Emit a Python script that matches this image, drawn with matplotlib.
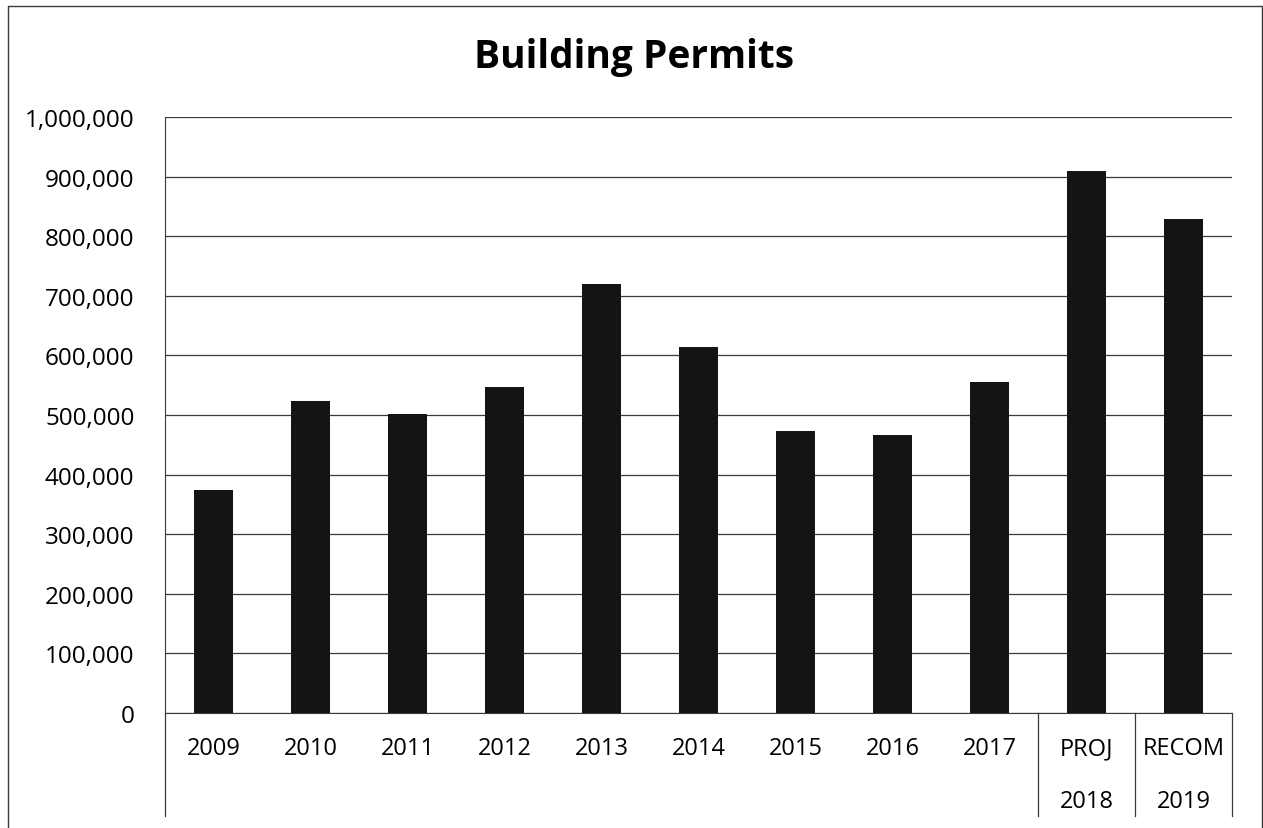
import matplotlib.pyplot as plt
from matplotlib.ticker import FuncFormatter, MultipleLocator

plt.rcParams['font.family'] = ['Open Sans', 'DejaVu Sans']

categories = ['2009', '2010', '2011', '2012', '2013', '2014', '2015', '2016',
              '2017', 'PROJ', 'RECOM']
sublabels = ['', '', '', '', '', '', '', '', '', '2018', '2019']
permits = [374000, 524000, 501000, 547000, 720000, 614000, 473000, 466000,
           555000, 909000, 829000]

W, H = 1263, 829
fig = plt.figure(figsize=(W / 100, H / 100), dpi=100)
ax = fig.add_axes([165 / W, (H - 714) / H, (1232 - 165) / W, (714 - 118) / H])

x = range(len(categories))
ax.bar(x, permits, width=0.4, color='#141414', zorder=3)

ax.set_xlim(-0.5, len(categories) - 0.5)
ax.set_ylim(0, 1000000)
ax.yaxis.set_major_locator(MultipleLocator(100000))
ax.yaxis.set_major_formatter(FuncFormatter(lambda v, p: f'{int(v):,}'))
ax.grid(axis='y', color='#3a3a3a', linewidth=0.9, zorder=0)
ax.tick_params(axis='y', length=0, pad=22, labelsize=17.5)
ax.set_xticks([])

for s in ['top', 'right']:
    ax.spines[s].set_visible(False)
ax.spines['left'].set_color('#3a3a3a')
ax.spines['bottom'].set_color('#3a3a3a')

# two-row category axis below the plot
low = -(817 - 714) / 596
ax.plot([-0.5, -0.5], [0, low * 1000000], color='#3a3a3a', lw=0.9, clip_on=False)
for sep in [8.5, 9.5, 10.5]:
    ax.plot([sep, sep], [0, low * 1000000], color='#3a3a3a', lw=0.9, clip_on=False)

row1 = -(749 - 714) / 596 * 1000000
row2 = -(802 - 714) / 596 * 1000000
for i, (c, s) in enumerate(zip(categories, sublabels)):
    ax.text(i, row1, c, ha='center', va='center', fontsize=17, clip_on=False)
    if s:
        ax.text(i, row2, s, ha='center', va='center', fontsize=17, clip_on=False)

fig.text(634 / W, 1 - 68 / H, 'Building Permits', ha='center', va='baseline',
         fontsize=28, fontweight='bold')

# outer chart border
fx = [8 / W, 8 / W, 1262 / W, 1262 / W]
fy = [0, 1 - 7 / H, 1 - 7 / H, 0]
fig.add_artist(plt.Line2D(fx, fy, color='#3a3a3a', lw=1.0))

fig.savefig('out.png', dpi=100)
